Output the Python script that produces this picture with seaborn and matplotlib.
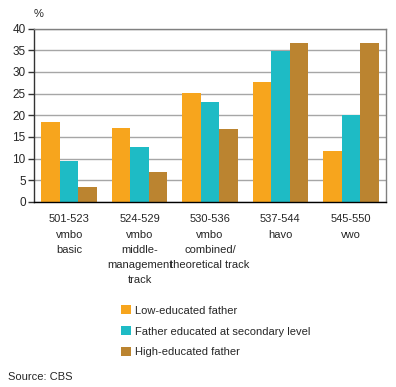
import pandas as pd
import matplotlib.pyplot as plt
import seaborn as sns

categories = ["501-523\nvmbo\nbasic", "524-529\nvmbo\nmiddle-\nmanagement\ntrack",
              "530-536\nvmbo\ncombined/\ntheoretical track", "537-544\nhavo", "545-550\nvwo"]
series = ["Low-educated father", "Father educated at secondary level", "High-educated father"]
low = [18.4, 17.0, 25.1, 27.6, 11.8]
secondary = [9.4, 12.7, 23.0, 34.8, 20.0]
high = [3.5, 6.9, 16.8, 36.6, 36.6]
colors = ["#F7A51D", "#1EBBC5", "#BB8430"]

df = pd.DataFrame({
    "group": categories * 3,
    "father": [s for s in series for _ in categories],
    "value": low + secondary + high,
})

sns.set_style("white")
plt.rcParams["font.family"] = ["Liberation Sans", "DejaVu Sans"]
fs = 8

fig = plt.figure(figsize=(3.96, 3.87), dpi=100)
ax = fig.add_axes([34 / 396, 1 - 202 / 387, 352 / 396, 173.5 / 387])

sns.barplot(data=df, x="group", y="value", hue="father", hue_order=series,
            palette=colors, width=0.79, gap=0, saturation=1, linewidth=0, ax=ax)

ax.set_ylim(0, 40)
ax.set_yticks(range(0, 41, 5))
ax.set_xlabel("")
ax.set_ylabel("")
ax.yaxis.grid(True, color="#a6a6a6", linewidth=1)
ax.set_axisbelow(True)
ax.tick_params(axis="y", length=4, width=1, color="#333333", labelsize=fs + 0.5, pad=2, left=True)
ax.tick_params(axis="x", length=0, labelsize=fs, pad=9)
for lbl in ax.get_xticklabels():
    lbl.set_linespacing(1.65)
for side in ["top", "right"]:
    ax.spines[side].set_color("#808080")
ax.spines["left"].set_color("#333333")
ax.spines["bottom"].set_color("black")
for sp in ax.spines.values():
    sp.set_linewidth(1)

handles, labels = ax.get_legend_handles_labels()
ax.legend_.remove()
fig.legend(handles, labels, loc="upper left", bbox_to_anchor=(117 / 396, 1 - 301 / 387),
           frameon=False, fontsize=fs, handlelength=0.85, handleheight=0.85,
           handletextpad=0.35, labelspacing=0.95, borderaxespad=0)

fig.text(34 / 396, 1 - 14 / 387, "%", fontsize=fs, va="center", ha="left")
fig.text(8 / 396, 1 - 377 / 387, "Source: CBS", fontsize=fs, va="center", ha="left")

fig.savefig("out.png", dpi=100)
